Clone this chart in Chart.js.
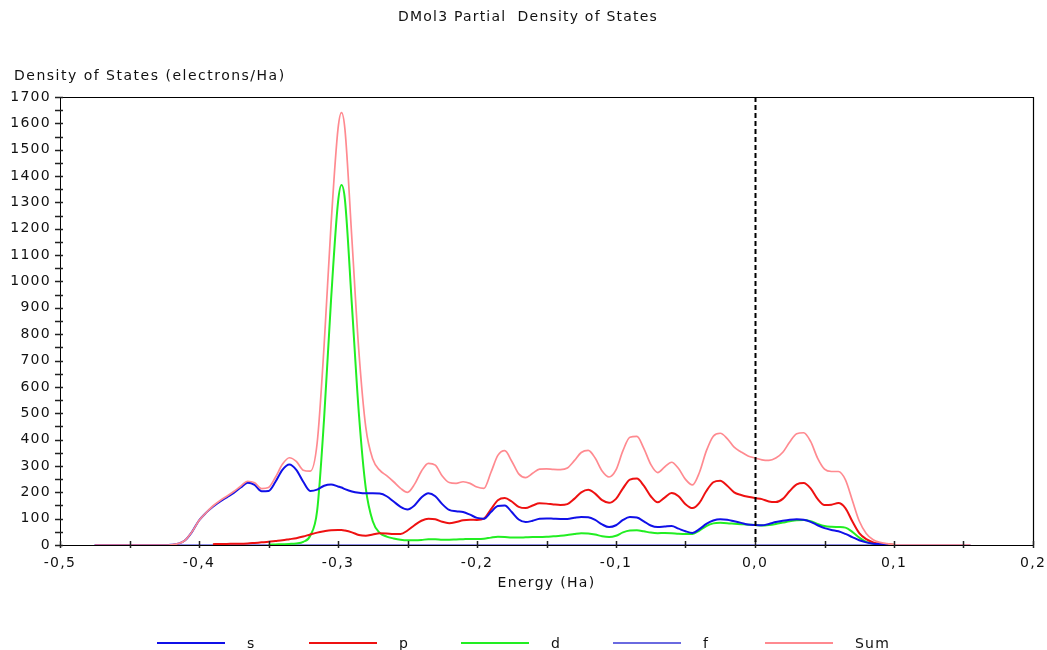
<!DOCTYPE html>
<html>
<head>
    <title>DMol3 Partial Density of States</title>
    <script src="https://cdn.jsdelivr.net/npm/chart.js"></script>
    <style>
        body {
            margin: 0;
            background: #fff;
            font-family: "DejaVu Sans", Verdana, sans-serif;
            color: #111;
        }
        #wrap {
            position: relative;
            width: 1047px;
            height: 650px;
        }
        #chart {
            position: absolute;
            left: 0;
            top: 0;
        }
        .title {
            position: absolute;
            top: 8px;
            left: 528px;
            transform: translateX(-50%);
            font-size: 14px;
            letter-spacing: 1.2px;
            white-space: pre;
        }
        .ytitle {
            position: absolute;
            top: 67px;
            left: 14px;
            font-size: 14px;
            letter-spacing: 1.5px;
            white-space: pre;
        }
        #legend {
            position: absolute;
            top: 634px;
            left: 157px;
            display: flex;
            font-size: 14px;
            letter-spacing: 1.2px;
        }
        .item {
            width: 152px;
            display: flex;
            align-items: center;
            height: 18px;
        }
        .swatch {
            width: 68px;
            height: 2px;
            margin-right: 22px;
        }
    </style>
</head>
<body>
<div id="wrap">
    <canvas id="chart" width="1047" height="650"></canvas>
    <div class="title">DMol3 Partial  Density of States</div>
    <div class="ytitle">Density of States (electrons/Ha)</div>
    <div id="legend"></div>
</div>

<script>
    // energy grid (Ha) shared by s, p, d and Sum
    const energy = [
        -0.475, -0.425, -0.42, -0.415, -0.41, -0.405, -0.4, -0.395, -0.39, -0.385,
        -0.38, -0.375, -0.37, -0.365, -0.36, -0.355, -0.35, -0.345, -0.34, -0.335,
        -0.33, -0.325, -0.32, -0.315, -0.31, -0.305, -0.3, -0.2975, -0.295, -0.29,
        -0.285, -0.28, -0.275, -0.27, -0.265, -0.26, -0.255, -0.25, -0.245, -0.24,
        -0.235, -0.23, -0.225, -0.22, -0.215, -0.21, -0.205, -0.2, -0.195, -0.19,
        -0.185, -0.18, -0.175, -0.17, -0.165, -0.16, -0.155, -0.15, -0.145, -0.14,
        -0.135, -0.13, -0.125, -0.12, -0.115, -0.11, -0.105, -0.1, -0.095, -0.09,
        -0.085, -0.08, -0.075, -0.07, -0.065, -0.06, -0.055, -0.05, -0.045, -0.04,
        -0.035, -0.03, -0.025, -0.02, -0.015, -0.01, -0.005, 0, 0.005, 0.01,
        0.015, 0.02, 0.025, 0.03, 0.035, 0.04, 0.045, 0.05, 0.055, 0.06,
        0.065, 0.07, 0.075, 0.08, 0.085, 0.09, 0.095, 0.1, 0.105, 0.155
    ];

    const sDos = [
        0, 0, 1, 5, 18, 50, 93, 122, 145, 164,
        181, 198, 218, 236, 228, 204, 205, 240, 285, 305,
        285, 240, 205, 210, 225, 230, 222, 218, 212, 203,
        198, 196, 196, 195, 185, 165, 145, 135, 150, 180,
        196, 185, 155, 133, 128, 125, 115, 103, 100, 125,
        148, 150, 125, 97, 87, 92, 100, 101, 100, 99,
        99, 103, 106, 105, 95, 78, 68, 75, 95, 106,
        104, 90, 74, 68, 70, 72, 62, 52, 46, 60,
        80, 93, 98, 96, 90, 84, 78, 76, 75, 80,
        87, 92, 96, 98, 96, 88, 75, 64, 57, 52,
        42, 30, 18, 10, 5, 3, 1, 0, null, null
    ];

    const pDos = [
        null, null, null, null, null, null, null, null, 3, 4,
        4, 5, 5, 6, 8, 10, 12, 15, 18, 22,
        26, 32, 40, 47, 52, 56, 57, 57, 55, 48,
        38, 35, 40, 45, 44, 42, 42, 55, 75, 92,
        100, 98, 88, 83, 87, 94, 96, 95, 100, 135,
        170, 178, 165, 145, 140, 150, 158, 157, 154, 152,
        155, 175, 200, 210, 195, 170, 160, 175, 215, 248,
        252, 225, 185, 162, 180, 197, 185, 155, 140, 160,
        205, 238, 244, 225, 200, 190, 183, 178, 174, 165,
        163, 175, 205, 230, 235, 215, 175, 152, 153, 159,
        140, 90, 45, 22, 10, 5, 3, 1, null, null
    ];

    const dDos = [
        null, null, null, null, null, null, null, null, null, null,
        null, null, null, null, null, null, 1, 2, 3, 4,
        6, 12, 35, 130, 480, 930, 1300, 1366, 1310, 910,
        500, 215, 90, 46, 32, 25, 20, 18, 18, 19,
        22, 22, 20, 20, 21, 22, 23, 23, 24, 28,
        31, 30, 28, 28, 29, 30, 30, 31, 33, 35,
        38, 42, 45, 44, 40, 33, 30, 35, 48, 55,
        56, 52, 47, 45, 46, 45, 43, 42, 42, 55,
        72, 82, 84, 83, 81, 79, 77, 76, 74, 76,
        80, 85, 90, 94, 95, 90, 80, 72, 69, 68,
        66, 50, 28, 12, 5, 2, 1, 0, null, null
    ];

    const sumDos = [
        0, 0, 1, 5, 18, 50, 93, 122, 148, 168,
        185, 203, 223, 242, 236, 214, 218, 257, 306, 331,
        317, 284, 280, 387, 757, 1216, 1579, 1641, 1577, 1161,
        736, 446, 326, 284, 263, 240, 215, 200, 230, 280,
        310, 303, 262, 237, 234, 240, 234, 220, 215, 275,
        340, 358, 318, 270, 256, 272, 288, 289, 287, 286,
        292, 320, 351, 359, 330, 281, 258, 285, 358, 409,
        412, 367, 306, 275, 296, 314, 290, 249, 228, 275,
        357, 413, 424, 404, 371, 353, 338, 330, 323, 321,
        330, 352, 391, 422, 426, 393, 330, 288, 279, 279,
        248, 170, 91, 44, 20, 10, 5, 1, 0, 0
    ];

    // f states are empty over the whole window
    const fEnergy = [-0.475, 0.155];
    const fDos = [0, 0];

    const seriesNames = ['s', 'p', 'd', 'f', 'Sum'];
    const seriesColors = ['#1010e8', '#ee1111', '#22ee22', '#6a6ae0', '#ff8a90'];
    const seriesWidths = [2, 2, 2, 1.6, 1.7];

    const xTicks = { min: -0.5, max: 0.2, step: 0.05 };
    const yTicks = { min: 0, max: 1700, step: 50 };
    const fermiLevel = 0;

    function toPoints(xs, ys) {
        const pts = [];
        xs.forEach((x, i) => {
            if (ys[i] !== null) pts.push({ x: x, y: ys[i] });
        });
        return pts;
    }

    const seriesData = [
        toPoints(energy, sDos),
        toPoints(energy, pDos),
        toPoints(energy, dDos),
        toPoints(fEnergy, fDos),
        toPoints(energy, sumDos)
    ];
    // Sum on top, f at the bottom
    const drawOrder = [1, 2, 3, 4, 0];

    const datasets = seriesNames.map((name, i) => ({
        label: name,
        data: seriesData[i],
        borderColor: seriesColors[i],
        borderWidth: seriesWidths[i],
        pointRadius: 0,
        fill: false,
        cubicInterpolationMode: 'monotone',
        order: drawOrder[i]
    }));

    const tickFont = { family: '"DejaVu Sans", Verdana, sans-serif', size: 14 };

    // wider letter spacing for the canvas labels, like the original
    const spacing = {
        id: 'spacing',
        beforeDraw(chart) { chart.ctx.letterSpacing = '1.3px'; },
        afterDraw(chart) { chart.ctx.letterSpacing = '0px'; }
    };

    // frame, crossing tick marks and the dashed Fermi level
    const extras = {
        id: 'extras',
        afterDatasetsDraw(chart) {
            const { ctx, chartArea: a, scales: { x, y } } = chart;
            ctx.save();
            ctx.strokeStyle = '#000';
            ctx.lineWidth = 1.2;
            ctx.beginPath();
            ctx.moveTo(a.left, a.top + 0.5);
            ctx.lineTo(a.right + 0.5, a.top + 0.5);
            ctx.lineTo(a.right + 0.5, a.bottom);
            ctx.stroke();

            ctx.strokeStyle = '#222';
            ctx.lineWidth = 1.5;
            ctx.beginPath();
            y.ticks.forEach(t => {
                const py = Math.round(y.getPixelForValue(t.value)) + 0.5;
                ctx.moveTo(a.left - 5, py);
                ctx.lineTo(a.left + 3, py);
            });
            x.ticks.forEach(t => {
                const px = Math.round(x.getPixelForValue(t.value)) + 0.5;
                ctx.moveTo(px, a.bottom - 4);
                ctx.lineTo(px, a.bottom + 3);
            });
            ctx.stroke();

            const fx = Math.round(x.getPixelForValue(fermiLevel)) + 0.5;
            ctx.strokeStyle = '#000';
            ctx.lineWidth = 2;
            ctx.setLineDash([5, 3]);
            ctx.beginPath();
            ctx.moveTo(fx, a.top);
            ctx.lineTo(fx, a.bottom);
            ctx.stroke();
            ctx.restore();
        }
    };

    const chart = new Chart(document.getElementById('chart'), {
        type: 'line',
        data: { datasets: datasets },
        options: {
            responsive: false,
            animation: false,
            events: [],
            layout: { padding: { top: 97, right: 14, bottom: 58, left: 0 } },
            scales: {
                x: {
                    type: 'linear',
                    min: xTicks.min,
                    max: xTicks.max,
                    grid: { display: false, drawTicks: false },
                    border: { display: true, color: '#000', width: 1 },
                    ticks: {
                        stepSize: xTicks.step,
                        autoSkip: false,
                        maxRotation: 0,
                        padding: 10,
                        color: '#111',
                        font: tickFont,
                        callback: v => {
                            const t = v * 10;
                            if (Math.abs(t - Math.round(t)) > 1e-6) return '';
                            return (Math.round(t) / 10).toFixed(1).replace('.', ',');
                        }
                    },
                    title: {
                        display: true,
                        text: 'Energy (Ha)',
                        color: '#111',
                        font: tickFont,
                        padding: 0
                    },
                    afterFit: s => {
                        s.height = 47;
                        s.paddingLeft = 0;
                        s.paddingRight = 0;
                    }
                },
                y: {
                    min: yTicks.min,
                    max: yTicks.max,
                    grid: { display: false, drawTicks: false },
                    border: { display: true, color: '#000', width: 1 },
                    ticks: {
                        stepSize: yTicks.step,
                        autoSkip: false,
                        padding: 9,
                        color: '#111',
                        font: tickFont,
                        callback: v => (v % 100 === 0 ? String(v) : '')
                    },
                    afterFit: s => {
                        s.width = 60;
                        s.paddingTop = 0;
                        s.paddingBottom = 0;
                    }
                }
            },
            plugins: {
                legend: { display: false },
                tooltip: { enabled: false }
            }
        },
        plugins: [spacing, extras]
    });

    // legend below the plot
    const legend = document.getElementById('legend');
    seriesNames.forEach((name, i) => {
        const item = document.createElement('div');
        item.className = 'item';
        const sw = document.createElement('span');
        sw.className = 'swatch';
        sw.style.background = seriesColors[i];
        const label = document.createElement('span');
        label.textContent = name;
        item.appendChild(sw);
        item.appendChild(label);
        legend.appendChild(item);
    });
</script>
</body>
</html>
